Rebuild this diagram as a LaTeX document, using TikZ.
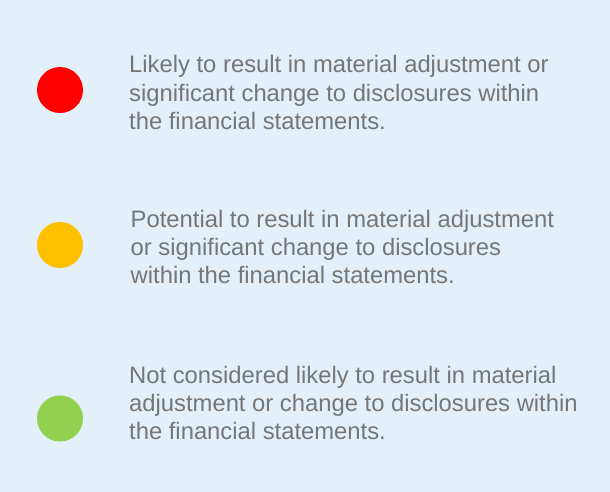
\documentclass[tikz,border=0pt]{standalone}
\usepackage{fontspec}
\setmainfont{Liberation Sans}
\definecolor{bgblue}{HTML}{E3EFF9}
\definecolor{txtgrey}{HTML}{767676}
\definecolor{dotred}{HTML}{FF0000}
\definecolor{dotamber}{HTML}{FFC000}
\definecolor{dotgreen}{HTML}{92D050}
\tikzset{
  dot/.style={circle, minimum size=46pt, inner sep=0pt},
  legendtext/.style={anchor=base west, align=left, inner sep=0pt, text=txtgrey,
    font=\fontsize{23.8pt}{28pt}\selectfont}
}
\begin{document}
\begin{tikzpicture}[x=1pt,y=-1pt]
\fill[bgblue] (0,0) rectangle (610,492);
\useasboundingbox (0,0) rectangle (610,492);
\node[dot, fill=dotred] (red) at (60,90) {};
\node[dot, fill=dotamber] (amber) at (60,245) {};
\node[dot, fill=dotgreen] (green) at (60,418.5) {};
% anchor=base west is the baseline of the last line
\node[legendtext] (t1) at (129,129) {Likely to result in material adjustment or\\significant change to disclosures within\\the financial statements.};
\node[legendtext] (t2) at (130.5,283) {Potential to result in material adjustment\\or significant change to disclosures\\within the financial statements.};
\node[legendtext] (t3) at (129,439) {Not considered likely to result in material\\adjustment or change to disclosures within\\the financial statements.};
\end{tikzpicture}
\end{document}
